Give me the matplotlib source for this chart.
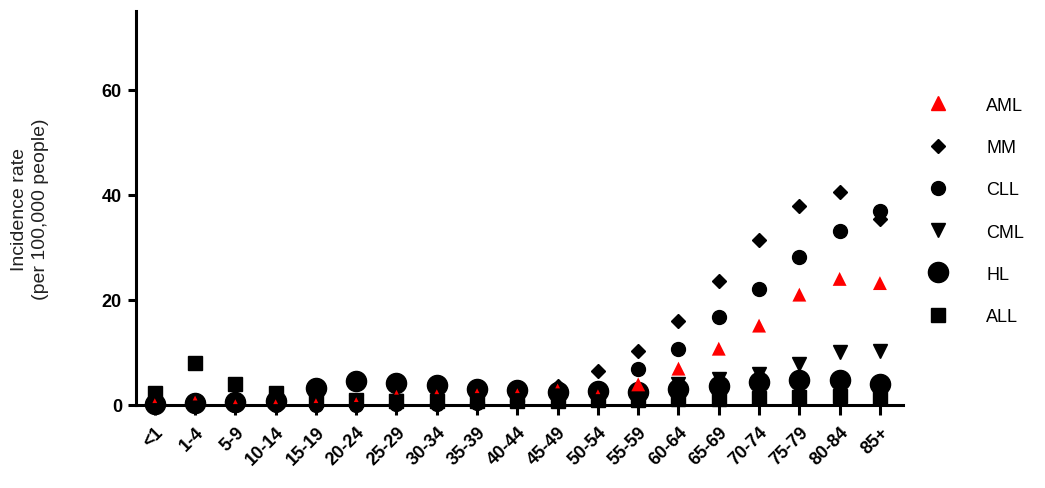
import matplotlib.pyplot as plt
import numpy as np

plt.rcParams['font.family'] = ['Liberation Sans', 'DejaVu Sans']

# age groups
ages = ['<1', '1-4', '5-9', '10-14', '15-19', '20-24', '25-29', '30-34', '35-39',
        '40-44', '45-49', '50-54', '55-59', '60-64', '65-69', '70-74', '75-79',
        '80-84', '85+']

# incidence per 100,000
aml = [0.8, 1.3, 0.6, 0.6, 0.8, 1.0, 2.4, 2.5, 2.7, 2.7, 3.6, 2.5, 3.9,
       6.9, 10.7, 15.1, 21.0, 24.0, 23.2]
mm = [0.0, 0.0, 0.0, 0.0, 0.0, 0.1, 0.2, 0.4, 0.8, 1.5, 3.5, 6.4, 10.2,
      15.9, 23.6, 31.4, 37.8, 40.5, 35.5]
cll = [0.0, 0.0, 0.0, 0.0, 0.0, 0.0, 0.1, 0.2, 0.4, 0.8, 1.5, 3.0, 6.8,
       10.7, 16.7, 22.1, 28.1, 33.1, 37.0]
cml = [0.4, 0.3, 0.3, 0.3, 0.5, 0.6, 0.7, 0.8, 0.9, 1.0, 1.2, 1.5, 2.0,
       4.0, 5.0, 5.9, 7.8, 10.0, 10.3]
hl = [0.1, 0.3, 0.6, 0.8, 3.3, 4.6, 4.2, 3.8, 3.1, 2.8, 2.5, 2.6, 2.5,
      3.0, 3.6, 4.4, 4.8, 4.7, 4.0]
all_ = [2.2, 7.9, 3.9, 2.3, 0.9, 0.9, 0.7, 0.7, 0.7, 0.8, 0.8, 0.9, 1.0,
        1.1, 1.2, 1.3, 1.5, 1.6, 1.5]

x = np.arange(len(ages))

fig = plt.figure(figsize=(10.45, 4.89), dpi=100)
ax = fig.add_axes([0.130, 0.170, 0.734, 0.805])

kw = dict(linestyle='none', color='black', clip_on=False)
ax.plot(x, hl, marker='o', markersize=14.5, zorder=3, label='HL', **kw)
ax.plot(x, all_, marker='s', markersize=9.5, zorder=4, label='ALL', **kw)
ax.plot(x, cml, marker='v', markersize=10, zorder=5, label='CML', **kw)
ax.plot(x, cll, marker='o', markersize=10, zorder=6, label='CLL', **kw)
ax.plot(x, mm, marker='D', markersize=7.5, zorder=7, label='MM', **kw)

# young-age AML points only show as tiny red marks inside the black symbols
sizes = np.where(x >= 12, 100, 12)
ax.scatter(x, aml, marker='^', s=sizes, color='red', linewidths=0,
           zorder=8, clip_on=False)
ax.plot([], [], marker='^', markersize=10, linestyle='none',
        color='red', label='AML')

ax.set_xlim(-0.47, 18.57)
ax.set_ylim(0, 75)
ax.set_yticks([0, 20, 40, 60])
ax.set_xticks(x)
ax.set_xticklabels(ages, rotation=45, ha='right', rotation_mode='anchor',
                   fontweight='bold', fontsize=13)
for lab in ax.get_yticklabels():
    lab.set_fontweight('bold')
    lab.set_fontsize(13)

for s in ['top', 'right']:
    ax.spines[s].set_visible(False)
for s in ['left', 'bottom']:
    ax.spines[s].set_linewidth(2.2)
    ax.spines[s].set_zorder(2)
ax.tick_params(axis='y', length=6, width=2.2, pad=4)
ax.tick_params(axis='x', length=7, width=2.2, pad=6)

ax.set_ylabel('Incidence rate\n(per 100,000 people)', fontsize=14,
              labelpad=38, linespacing=1.35, color='#222222')

handles, labels = ax.get_legend_handles_labels()
order = ['AML', 'MM', 'CLL', 'CML', 'HL', 'ALL']
hmap = dict(zip(labels, handles))
fig.legend([hmap[k] for k in order], order, loc='upper left',
           bbox_to_anchor=(0.878, 0.815), frameon=False, fontsize=13,
           labelspacing=1.4, handlelength=1.5, handletextpad=1.9,
           borderaxespad=0)

fig.savefig('out.png', dpi=100)
